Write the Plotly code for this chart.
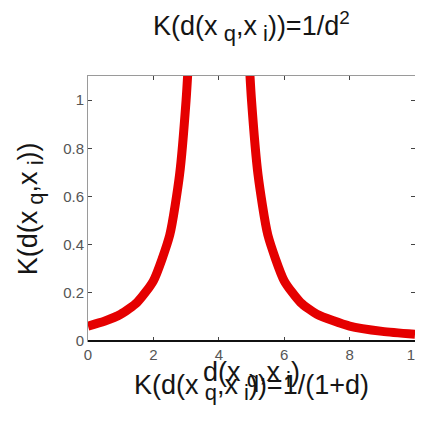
import plotly.graph_objects as go

# distance axis and kernel value K = 1/d^2 (two branches around x_q = 4)
left_x = [0, 0.5, 1.0, 1.5, 2.0, 2.5, 2.8, 3.0, 3.1]
left_y = [0.062, 0.082, 0.111, 0.16, 0.25, 0.44, 0.69, 1.0, 1.23]
right_x = [4.9, 5.0, 5.2, 5.5, 6.0, 6.5, 7.0, 8.0, 9.0, 10.0]
right_y = [1.23, 1.0, 0.69, 0.44, 0.25, 0.16, 0.111, 0.062, 0.04, 0.028]

x_ticks = [0, 2, 4, 6, 8, 10]
y_ticks = [0, 0.2, 0.4, 0.6, 0.8, 1]
y_tick_text = ["0", "0.2", "0.4", "0.6", "0.8", "1"]


def sub(s):
    # MATLAB-style subscripts are nearly full size
    return f"<sub><span style='font-size:22px'> {s}</span></sub>"


title_text = f"K(d(x{sub('q')},x{sub('i')}))=1/d<sup>2</sup>"
x_title = f"d(x{sub('q')},x{sub('i')})"
y_title = f"K(d(x{sub('q')},x{sub('i')}))"
bottom_text = f"K(d(x{sub('q')},x{sub('i')}))=1/(1+d)"

FONT = "Liberation Sans, Arial, sans-serif"
RED = "#e50000"
TEXT = "#151515"
BIG = 27

fig = go.Figure()
for xs, ys in [(left_x, left_y), (right_x, right_y)]:
    fig.add_trace(
        go.Scatter(
            x=xs,
            y=ys,
            mode="lines",
            line=dict(color=RED, width=9, shape="spline", smoothing=0.6),
            showlegend=False,
            hoverinfo="skip",
        )
    )

# black bottom axis line over the grey box
fig.add_shape(
    type="line",
    xref="paper",
    yref="paper",
    x0=0,
    x1=1,
    y0=0,
    y1=0,
    line=dict(color="#111", width=2),
)

labels = [
    (title_text, 0.5, 1.185, 0),
    (x_title, 0.5, -0.125, 0),
    (bottom_text, 0.5, -0.175, 0),
    (y_title, -0.175, 0.5, -90),
]
for text, px, py, angle in labels:
    fig.add_annotation(
        x=px,
        y=py,
        xref="paper",
        yref="paper",
        text=text,
        textangle=angle,
        showarrow=False,
        xanchor="center",
        yanchor="middle",
        font=dict(family=FONT, size=BIG, color=TEXT),
    )

axis_style = dict(
    ticks="inside",
    ticklen=4,
    tickcolor="#444",
    mirror="ticks",
    showline=True,
    linecolor="#9a9a9a",
    linewidth=1,
    showgrid=False,
    zeroline=False,
    ticklabeloverflow="allow",
    tickfont=dict(family=FONT, size=15, color="#555"),
)
fig.update_xaxes(range=[0, 10], tickvals=x_ticks, **axis_style)
fig.update_yaxes(range=[0, 1.1], tickvals=y_ticks, ticktext=y_tick_text, **axis_style)
fig.update_layout(
    width=423,
    height=422,
    plot_bgcolor="white",
    paper_bgcolor="white",
    margin=dict(l=80, r=8, t=68, b=89),
)

fig.write_html("out.html")
